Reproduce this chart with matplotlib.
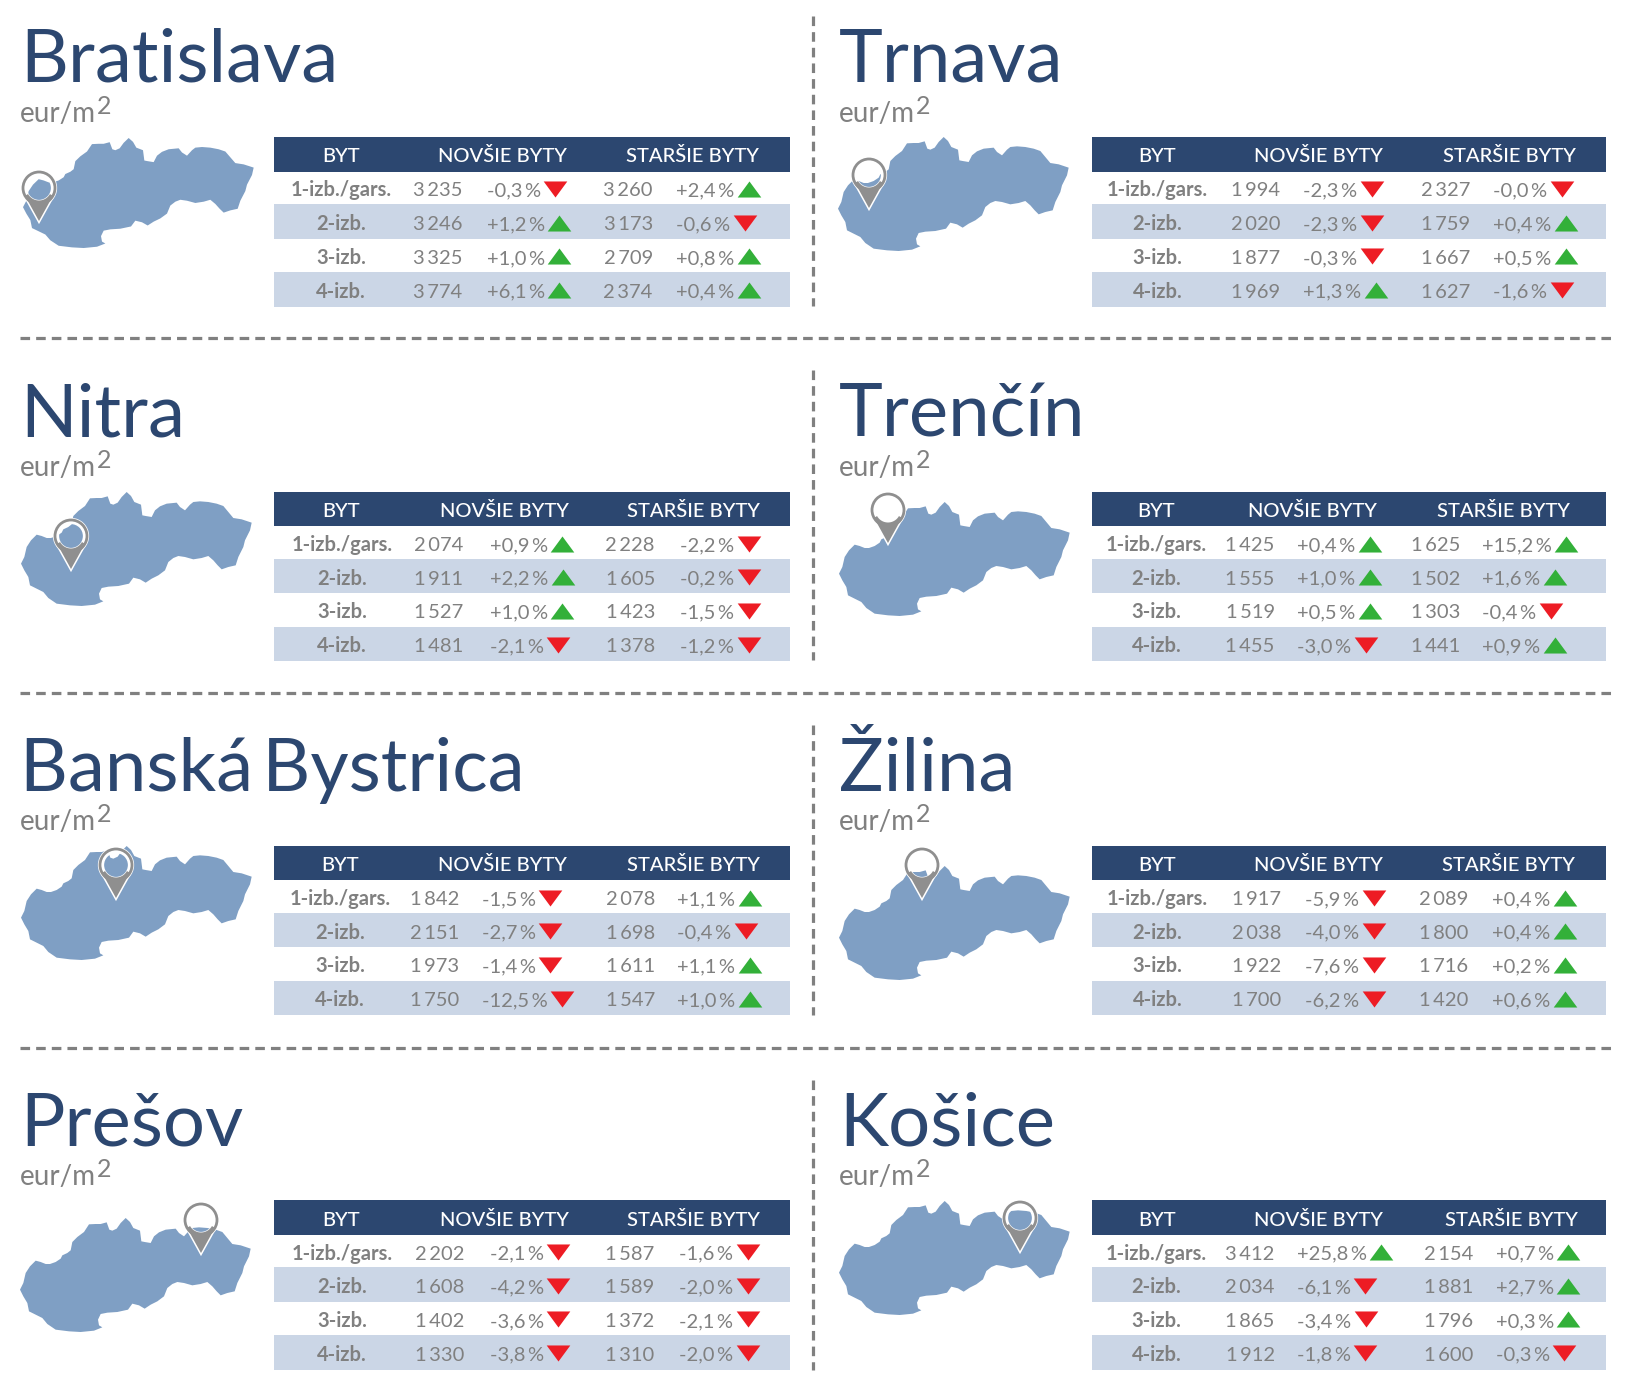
import numpy as np
import matplotlib
matplotlib.use("Agg")
import matplotlib.pyplot as plt
from matplotlib.patches import Circle, Polygon, Rectangle

plt.rcParams['font.family'] = ['Lato', 'DejaVu Sans']

# =========================
# Data
# =========================
cities = ["Bratislava", "Trnava", "Nitra", "Trenčín",
          "Banská\u2009Bystrica", "Žilina", "Prešov", "Košice"]
rooms = ["1-izb./gars.", "2-izb.", "3-izb.", "4-izb."]
headers = ["BYT", "NOVŠIE BYTY", "STARŠIE BYTY"]

new_prices = [
    [3235, 3246, 3325, 3774], [1994, 2020, 1877, 1969],
    [2074, 1911, 1527, 1481], [1425, 1555, 1519, 1455],
    [1842, 2151, 1973, 1750], [1917, 2038, 1922, 1700],
    [2202, 1608, 1402, 1330], [3412, 2034, 1865, 1912],
]
new_changes = [
    [-0.3, 1.2, 1.0, 6.1], [-2.3, -2.3, -0.3, 1.3],
    [0.9, 2.2, 1.0, -2.1], [0.4, 1.0, 0.5, -3.0],
    [-1.5, -2.7, -1.4, -12.5], [-5.9, -4.0, -7.6, -6.2],
    [-2.1, -4.2, -3.6, -3.8], [25.8, -6.1, -3.4, -1.8],
]
old_prices = [
    [3260, 3173, 2709, 2374], [2327, 1759, 1667, 1627],
    [2228, 1605, 1423, 1378], [1625, 1502, 1303, 1441],
    [2078, 1698, 1611, 1547], [2089, 1800, 1716, 1420],
    [1587, 1589, 1372, 1310], [2154, 1881, 1796, 1600],
]
old_changes = [
    [2.4, -0.6, 0.8, 0.4], [-0.0, 0.4, 0.5, -1.6],
    [-2.2, -0.2, -1.5, -1.2], [15.2, 1.6, -0.4, 0.9],
    [1.1, -0.4, 1.1, 1.0], [0.4, 0.4, 0.2, 0.6],
    [-1.6, -2.0, -2.1, -2.0], [0.7, 2.7, 0.3, -0.3],
]

# outline of the country
map_x = [28, 38, 45, 58, 75, 90, 105, 118, 135, 150, 155, 170, 180, 185, 200, 220, 235, 255, 270,
         288, 296, 305, 318, 330, 345, 358, 368, 388, 392, 402, 420, 430, 445, 465, 495, 505,
         520, 535, 545, 565, 590, 615, 635, 650, 665, 690, 720, 715, 700, 695, 680, 672, 650,
         630, 618, 605, 590, 570, 545, 520, 500, 485, 470, 460, 440, 420, 402, 385, 365, 352,
         320, 290, 270, 262, 265, 275, 250, 210, 175, 135, 110, 95, 75, 55, 50, 38]
map_y = [255, 235, 205, 185, 168, 172, 178, 178, 172, 162, 152, 145, 137, 112, 97, 82, 59, 58, 58,
         53, 75, 78, 72, 55, 40, 52, 70, 78, 110, 112, 115, 95, 83, 75, 72, 85,
         95, 78, 70, 68, 70, 75, 82, 100, 118, 122, 132, 155, 185, 205, 235, 260, 265,
         272, 260, 245, 232, 238, 242, 235, 232, 238, 250, 275, 290, 300, 312, 302, 297, 315,
         322, 324, 328, 345, 362, 368, 378, 382, 380, 375, 358, 340, 330, 320, 295, 275]

# =========================
# Layout (pixels)
# =========================
W, H = 1633, 1395
NAVY = "#2c4770"
BAND = "#cbd6e6"
MAP_BLUE = "#7f9fc4"
GRAY = "#808080"
GREEN = "#33b039"
RED = "#ed1c24"

col_left = [0, 819]
row_top = [137, 491.5, 845.5, 1200]
table_left = [274, 1092]
table_w = [516, 514.5]

# left, top, vertical scale of the map outline; x, y of the pin circle
map_pos = [(23, 138, 0.965), (838, 137, 1), (21, 492, 1), (839, 502, 1),
           (21, 846, 1), (839, 866, 1), (20, 1218, 1), (839, 1201, 1)]
pin_pos = [(39, 188), (869, 175), (71, 536), (888, 510), (116, 865), (922, 865), (201, 1220), (1020, 1218)]

# BYT, new header, old header, room col, new price, new pct, old price, old pct
col_x = [
    [328, 483, 666, 328, 421, 468, 604, 650],
    [1113, 1268, 1451, 1113, 1207, 1253, 1390, 1436],
    [328, 485, 667, 329, 422, 471, 606, 654],
    [1112, 1262, 1446, 1112, 1202, 1247, 1380, 1425],
    [327, 483, 667, 327, 418, 463, 606, 651],
    [1113, 1268, 1450, 1113, 1208, 1255, 1388, 1435],
    [328, 485, 667, 329, 423, 471, 605, 653],
    [1113, 1268, 1453, 1112, 1202, 1247, 1393, 1438],
]
SCALE = 1.04
FS = 14.5

# y axis of the plot is inverted, markers are not
tri_up = [(-1, -0.68), (1, -0.68), (0, 0.68)]
tri_down = [(-1, 0.68), (1, 0.68), (0, -0.68)]

fig = plt.figure(figsize=(W / 100, H / 100), dpi=100)
ax = fig.add_axes([0, 0, 1, 1])
ax.set_xlim(0, W)
ax.set_ylim(H, 0)
ax.axis("off")
renderer = fig.canvas.get_renderer()


def fmt_price(v):
    return f"{v:,}".replace(",", "\u2009")


def fmt_change(v):
    return f"{v:+.1f}\u2009%".replace(".", ",")


def draw_change(x, y, value):
    t = ax.text(x, y + 7.5, fmt_change(value), color=GRAY, fontsize=FS, ha="left", va="baseline")
    x1 = t.get_window_extent(renderer).x1
    down = np.signbit(value)
    ax.plot([x1 + 14.5], [y], linestyle="none",
            marker=tri_down if down else tri_up, markersize=17,
            markerfacecolor=RED if down else GREEN, markeredgewidth=0)


def draw_map(left, top, sy):
    xs = (np.array(map_x) - min(map_x)) / 3 + left
    ys = (np.array(map_y) - min(map_y)) / 3 * sy + top
    ax.add_patch(Polygon(np.column_stack([xs, ys]), closed=True, facecolor=MAP_BLUE, edgecolor="none"))


def draw_pin(cx, cy):
    r = 16
    tip = 33
    a = np.arccos(r / tip)
    ang = np.linspace(np.pi / 2 - a, np.pi / 2 + a, 20)
    outer = np.vstack([[[cx, cy + tip]], np.column_stack([cx + r * np.cos(ang), cy + r * np.sin(ang)])])
    inner = np.vstack([[[cx, cy + tip]],
                       [[cx + r * np.cos(ang[0]), cy + r * np.sin(ang[0])]],
                       np.column_stack([cx + 12.5 * np.cos(ang), cy + 12.5 * np.sin(ang)]),
                       [[cx + r * np.cos(ang[-1]), cy + r * np.sin(ang[-1])]]])
    ax.add_patch(Polygon(outer, closed=True, facecolor="white", edgecolor="white", linewidth=2.2, zorder=3))
    ax.add_patch(Circle((cx, cy), r - 1, fill=False, edgecolor="white", linewidth=4.5, zorder=3))
    ax.add_patch(Polygon(inner, closed=True, facecolor="#8f8f8f", edgecolor="none", zorder=4))
    ax.add_patch(Circle((cx, cy), r, fill=False, edgecolor="#8f8f8f", linewidth=2.0, zorder=5))


# =========================
# Panels
# =========================
for i, city in enumerate(cities):
    r_idx, c_idx = i // 2, i % 2
    top = row_top[r_idx]
    xoff = col_left[c_idx]
    dy = top - 137

    ax.text(20 + xoff, 82 + dy, city, color=NAVY, fontsize=53.5, ha="left", va="baseline")
    t = ax.text(19.5 + xoff, 122 + dy, "eur/m", color=GRAY, fontsize=20, ha="left", va="baseline")
    x1 = t.get_window_extent(renderer).x1
    ax.text(x1 + 1.5, 114 + dy, "2", color=GRAY, fontsize=18, ha="left", va="baseline")

    draw_map(*map_pos[i])
    draw_pin(*pin_pos[i])

    # table
    tl = table_left[c_idx]
    tw = table_w[c_idx]
    ax.add_patch(Rectangle((tl, top), tw, 34.5, facecolor=NAVY, edgecolor="none"))
    ax.add_patch(Rectangle((tl, top + 67), tw, 34.5, facecolor=BAND, edgecolor="none"))
    ax.add_patch(Rectangle((tl, top + 135), tw, 34.5, facecolor=BAND, edgecolor="none"))

    xs = [v * SCALE for v in col_x[i]]
    for j, h in enumerate(headers):
        ax.text(xs[j], top + 25.5, h, color="white", fontsize=FS, weight="medium", ha="center", va="baseline")

    for k, room in enumerate(rooms):
        y = top + 52 + k * 33.7
        ax.text(xs[3], y + 7.5, room, color=GRAY, fontsize=FS, weight="bold", ha="center", va="baseline")
        ax.text(xs[4], y + 7.5, fmt_price(new_prices[i][k]), color=GRAY, fontsize=FS, ha="center", va="baseline")
        draw_change(xs[5], y, new_changes[i][k])
        ax.text(xs[6], y + 7.5, fmt_price(old_prices[i][k]), color=GRAY, fontsize=FS, ha="center", va="baseline")
        draw_change(xs[7], y, old_changes[i][k])

# =========================
# Dashed separators
# =========================
for y in [338, 692.5, 1047.5]:
    ax.plot([20, 1612], [y, y], color=GRAY, linewidth=2.3, linestyle=(0, (3.0, 1.9)))
for y0, y1 in [(16, 306), (370, 660), (725, 1015), (1080, 1370)]:
    ax.plot([813.5, 813.5], [y0, y1], color=GRAY, linewidth=2.3, linestyle=(0, (3.0, 1.9)))

plt.savefig("out.png", dpi=100)
plt.close()
print("Saved: out.png")
